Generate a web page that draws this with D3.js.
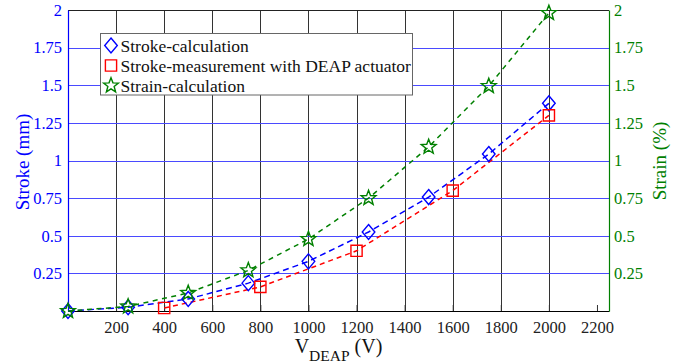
<!DOCTYPE html>
<html>
<head>
<meta charset="utf-8">
<script src="https://cdn.jsdelivr.net/npm/d3@7"></script>
</head>
<body style="margin:0;background:#fff">
<svg id="chart" width="694" height="364"></svg>
<script>
// Stroke and strain of the DEAP actuator versus driving voltage
const voltCalc = [0, 250, 500, 750, 1000, 1250, 1500, 1750, 2000];
const strokeCalc = [0, 0.025, 0.08, 0.185, 0.33, 0.525, 0.757, 1.043, 1.38];
const strainCalc = [0, 0.03, 0.12, 0.27, 0.478, 0.75, 1.09, 1.495, 1.98];
const voltMeas = [400, 800, 1200, 1600, 2000];
const strokeMeas = [0.02, 0.16, 0.40, 0.80, 1.30];

const xTicks = [200, 400, 600, 800, 1000, 1200, 1400, 1600, 1800, 2000, 2200];
const yTicks = [0.25, 0.5, 0.75, 1, 1.25, 1.5, 1.75, 2];
const legendLabels = ["Stroke-calculation", "Stroke-measurement with DEAP actuator", "Strain-calculation"];

const BLUE = "#0000ff", RED = "#ff0000", GREEN = "#008000";
const FONT = '"Liberation Serif"';
const m = { left: 68, right: 609, top: 10, bottom: 311 };

const svg = d3.select("#chart");
const x = d3.scaleLinear().domain([0, 2250]).range([m.left, m.right]);
const yL = d3.scaleLinear().domain([0, 2]).range([m.bottom, m.top]);
const yR = d3.scaleLinear().domain([0, 2]).range([m.bottom, m.top]);

// grid
const grid = svg.append("g");
grid.selectAll("line.v").data(xTicks.filter(t => t < 2200)).join("line")
  .attr("x1", d => Math.round(x(d)) + 0.5).attr("x2", d => Math.round(x(d)) + 0.5)
  .attr("y1", m.top).attr("y2", m.bottom)
  .attr("stroke", "#333").attr("stroke-width", 1);
grid.selectAll("line.h").data(yTicks.filter(t => t < 2)).join("line")
  .attr("x1", m.left).attr("x2", m.right)
  .attr("y1", d => Math.round(yL(d)) + 0.5).attr("y2", d => Math.round(yL(d)) + 0.5)
  .attr("stroke", "#4a4aff").attr("stroke-width", 1.2);

// frame
svg.append("line").attr("x1", m.left).attr("x2", m.right).attr("y1", m.top + 0.5).attr("y2", m.top + 0.5)
  .attr("stroke", "#222").attr("stroke-width", 1);

// axes
const xAxis = svg.append("g").attr("transform", `translate(0,${m.bottom})`)
  .call(d3.axisBottom(x).tickValues(xTicks).tickSize(-6).tickPadding(10).tickSizeOuter(0)
    .tickFormat(d3.format("d")));
xAxis.select(".domain").attr("stroke", "#000").attr("stroke-width", 1.2);
xAxis.selectAll(".tick line").attr("stroke", "#333");
xAxis.selectAll("text").style("font-family", FONT).style("font-size", "16.5px").attr("fill", "#222");

const leftAxis = svg.append("g").attr("transform", `translate(${m.left},0)`)
  .call(d3.axisLeft(yL).tickValues(yTicks).tickSize(0).tickPadding(6).tickSizeOuter(0)
    .tickFormat(d3.format("")));
leftAxis.select(".domain").attr("stroke", BLUE).attr("stroke-width", 1.2);
leftAxis.selectAll("text").style("font-family", FONT).style("font-size", "16.5px").attr("fill", BLUE);

const rightAxis = svg.append("g").attr("transform", `translate(${m.right},0)`)
  .call(d3.axisRight(yR).tickValues(yTicks).tickSize(0).tickPadding(5).tickSizeOuter(0)
    .tickFormat(d3.format("")));
rightAxis.select(".domain").attr("stroke", GREEN).attr("stroke-width", 1.2);
rightAxis.selectAll("text").style("font-family", FONT).style("font-size", "16.5px").attr("fill", GREEN);

// axis titles
svg.append("text").attr("transform", `translate(29,162) rotate(-90)`)
  .attr("text-anchor", "middle").style("font-family", FONT).style("font-size", "19px")
  .attr("fill", BLUE).text("Stroke (mm)");
svg.append("text").attr("transform", `translate(666,161) rotate(-90)`)
  .attr("text-anchor", "middle").style("font-family", FONT).style("font-size", "19px")
  .attr("fill", GREEN).text("Strain (%)");
const xt = svg.append("text").attr("x", (m.left + m.right) / 2).attr("y", 353).attr("text-anchor", "middle")
  .style("font-family", FONT).style("font-size", "20px").attr("fill", "#111");
xt.append("tspan").text("V");
xt.append("tspan").attr("dy", 8).style("font-size", "15.5px").text("DEAP");
xt.append("tspan").attr("dy", -8).text(" (V)");

// series
const line = (xs, ys, sc) => d3.line().x((d, i) => x(xs[i])).y(d => sc(d))(ys);
const series = [
  { xs: voltCalc, ys: strokeCalc, sc: yL, color: BLUE, dash: "6,4", shape: "diamond" },
  { xs: voltMeas, ys: strokeMeas, sc: yL, color: RED, dash: "5,4", shape: "square" },
  { xs: voltCalc, ys: strainCalc, sc: yR, color: GREEN, dash: "5,4.5", shape: "star" }
];

function markerPath(shape) {
  if (shape === "diamond") return "M0,-7.5L6.3,0L0,7.5L-6.3,0Z";
  if (shape === "square") return "M-5.6,-5.6H5.6V5.6H-5.6Z";
  const pts = [];
  for (let k = 0; k < 10; k++) {
    const r = k % 2 === 0 ? 7.8 : 3.3;
    const a = -Math.PI / 2 + k * Math.PI / 5;
    pts.push([r * Math.cos(a), r * Math.sin(a)]);
  }
  return "M" + pts.map(p => p.join(",")).join("L") + "Z";
}

series.forEach(s => {
  svg.append("path").attr("d", line(s.xs, s.ys, s.sc))
    .attr("fill", "none").attr("stroke", s.color).attr("stroke-width", 1.5)
    .attr("stroke-dasharray", s.dash);
});
series.forEach(s => {
  svg.append("g").selectAll("path").data(s.ys).join("path")
    .attr("transform", (d, i) => `translate(${x(s.xs[i])},${s.sc(d)})`)
    .attr("d", markerPath(s.shape))
    .attr("fill", "none").attr("stroke", s.color).attr("stroke-width", 1.4);
});

// legend
const lg = svg.append("g");
lg.append("rect").attr("x", 100.5).attr("y", 33.5).attr("width", 312).attr("height", 61.5)
  .attr("fill", "#fff").attr("stroke", "#666").attr("stroke-width", 1);
legendLabels.forEach((t, i) => {
  const cy = 45.5 + i * 20;
  const s = series[i];
  lg.append("path").attr("transform", `translate(111,${cy})`).attr("d", markerPath(s.shape))
    .attr("fill", "none").attr("stroke", s.color).attr("stroke-width", 1.4);
  lg.append("text").attr("x", 120.5).attr("y", cy + 6)
    .style("font-family", FONT).style("font-size", "17.5px")
    .attr("fill", "#111").text(t);
});
</script>
</body>
</html>
